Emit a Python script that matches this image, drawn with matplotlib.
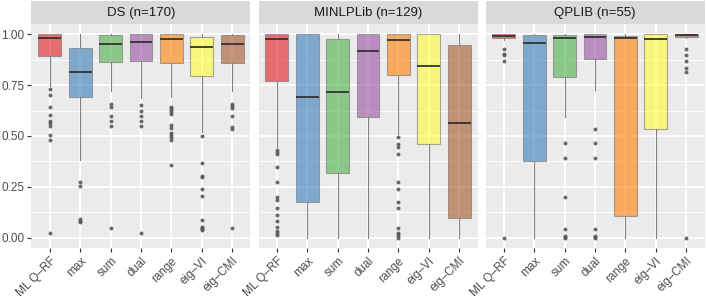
import matplotlib
matplotlib.use("Agg")
import matplotlib.pyplot as plt
from matplotlib.ticker import MultipleLocator, FormatStrFormatter

# ─────────────────────────────────────────────
# DONNÉES
# ─────────────────────────────────────────────
METHODES = ['ML Q–RF', 'max', 'sum', 'dual', 'range', 'eig–VI', 'eig–CMI']
PANNEAUX = ['DS (n=170)', 'MINLPLib (n=129)', 'QPLIB (n=55)']
COULEURS = ['#E41A1C', '#377EB8', '#4DAF4A', '#984EA3', '#FF7F00', '#FFFF33', '#A65628']

# DS
ds_q1    = [0.892, 0.690, 0.863, 0.868, 0.859, 0.797, 0.859]
ds_med   = [0.979, 0.812, 0.951, 0.964, 0.974, 0.935, 0.954]
ds_q3    = [1.000, 0.930, 0.995, 1.000, 1.000, 0.987, 0.995]
ds_lo    = [0.745, 0.380, 0.720, 0.685, 0.690, 0.520, 0.720]
ds_hi    = [1.000, 1.000, 1.000, 1.000, 1.000, 1.000, 1.000]
ds_out   = [
    [0.730, 0.701, 0.641, 0.601, 0.575, 0.563, 0.549, 0.505, 0.480, 0.023],
    [0.275, 0.255, 0.090, 0.085, 0.080],
    [0.655, 0.641, 0.600, 0.574, 0.549, 0.048],
    [0.650, 0.623, 0.600, 0.574, 0.549, 0.023],
    [0.644, 0.636, 0.627, 0.616, 0.609, 0.552, 0.541, 0.513, 0.505, 0.494, 0.480, 0.358],
    [0.500, 0.369, 0.304, 0.297, 0.240, 0.206, 0.088, 0.055, 0.049, 0.042, 0.036],
    [0.655, 0.647, 0.639, 0.600, 0.546, 0.536, 0.049],
]

# MINLPLib
minlp_q1  = [0.771, 0.175, 0.320, 0.595, 0.799, 0.461, 0.096]
minlp_med = [0.974, 0.690, 0.717, 0.915, 0.969, 0.846, 0.565]
minlp_q3  = [1.000, 1.000, 0.974, 1.000, 1.000, 1.000, 0.946]
minlp_lo  = [0.448, 0.000, 0.000, 0.000, 0.510, 0.000, 0.000]
minlp_hi  = [1.000, 1.000, 1.000, 1.000, 1.000, 1.000, 1.000]
minlp_out = [
    [0.430, 0.422, 0.414, 0.347, 0.275, 0.202, 0.185, 0.148, 0.110, 0.085, 0.052, 0.035, 0.023, 0.012],
    [],
    [],
    [],
    [0.497, 0.461, 0.448, 0.410, 0.273, 0.240, 0.175, 0.146, 0.050, 0.026, 0.020, 0.010, 0.000],
    [],
    [],
]

# QPLIB
qp_q1  = [0.979, 0.379, 0.788, 0.876, 0.109, 0.534, 0.984]
qp_med = [0.990, 0.958, 0.979, 0.987, 0.979, 0.974, 0.995]
qp_q3  = [1.000, 0.995, 0.995, 1.000, 0.992, 1.000, 1.000]
qp_lo  = [0.972, 0.000, 0.595, 0.725, 0.000, 0.000, 0.980]
qp_hi  = [1.000, 1.000, 1.000, 1.000, 1.000, 1.000, 1.000]
qp_out = [
    [0.926, 0.905, 0.897, 0.866, 0.000],
    [],
    [0.467, 0.394, 0.202, 0.044, 0.011, 0.003, 0.000],
    [0.534, 0.467, 0.394, 0.044, 0.010, 0.003, 0.000],
    [],
    [],
    [0.926, 0.897, 0.868, 0.832, 0.815, 0.000],
]

DONNEES = [
    (ds_q1, ds_med, ds_q3, ds_lo, ds_hi, ds_out),
    (minlp_q1, minlp_med, minlp_q3, minlp_lo, minlp_hi, minlp_out),
    (qp_q1, qp_med, qp_q3, qp_lo, qp_hi, qp_out),
]

# ─────────────────────────────────────────────
# FIGURE
# ─────────────────────────────────────────────
plt.rcParams['font.family'] = ['Liberation Sans', 'DejaVu Sans']

W, H = 706, 303
fig = plt.figure(figsize=(W / 100, H / 100), dpi=100)

PANEL_W = 219
PANEL_X = [31.5, 258.5, 485.5]
PANEL_TOP, PANEL_BOT = 24, 248
STRIP_TOP = 1

for k, (q1, med, q3, lo, hi, out) in enumerate(DONNEES):
    x0 = PANEL_X[k]
    ax = fig.add_axes([x0 / W, (H - PANEL_BOT) / H, PANEL_W / W, (PANEL_BOT - PANEL_TOP) / H])
    ax.set_facecolor('#EBEBEB')

    stats = []
    for i in range(len(METHODES)):
        stats.append({'q1': q1[i], 'med': med[i], 'q3': q3[i],
                      'whislo': lo[i], 'whishi': hi[i], 'fliers': out[i]})

    bp = ax.bxp(stats, positions=range(1, len(METHODES) + 1), widths=0.75,
                patch_artist=True, showcaps=False,
                boxprops=dict(edgecolor='#8C8C8C', linewidth=0.8),
                whiskerprops=dict(color='#808080', linewidth=0.8),
                medianprops=dict(color='#333333', linewidth=1.3),
                flierprops=dict(marker='o', markersize=2.8, markerfacecolor='#595959',
                                markeredgecolor='none', alpha=0.9))
    for patch, c in zip(bp['boxes'], COULEURS):
        patch.set_facecolor(c)
        patch.set_alpha(0.6)
        patch.set_edgecolor((0.45, 0.45, 0.45, 0.8))

    ax.set_xlim(0.4, 7.6)
    ax.set_ylim(-0.05, 1.05)
    ax.yaxis.set_major_locator(MultipleLocator(0.25))
    ax.yaxis.set_minor_locator(MultipleLocator(0.125))
    ax.yaxis.set_major_formatter(FormatStrFormatter('%.2f'))
    ax.set_axisbelow(True)
    ax.grid(True, which='major', color='white', linewidth=1.3)
    ax.grid(True, which='minor', axis='y', color='white', linewidth=0.65)
    for sp in ax.spines.values():
        sp.set_visible(False)

    ax.set_xticks(range(1, len(METHODES) + 1))
    ax.set_xticklabels(METHODES, rotation=45, ha='right', va='top',
                       rotation_mode='anchor', fontsize=8.5, color='#4D4D4D')
    ax.tick_params(axis='x', which='major', length=3, width=0.8, color='#333333', pad=2)
    ax.tick_params(axis='y', which='minor', length=0)
    if k == 0:
        ax.tick_params(axis='y', which='major', length=3, width=0.8, color='#333333',
                       labelsize=8.5, labelcolor='#4D4D4D', pad=2)
    else:
        ax.tick_params(axis='y', which='major', length=0, labelleft=False)

    # bandeau de facette
    sax = fig.add_axes([x0 / W, (H - PANEL_TOP) / H, PANEL_W / W, (PANEL_TOP - STRIP_TOP) / H])
    sax.set_facecolor('#D9D9D9')
    sax.set_xticks([])
    sax.set_yticks([])
    for sp in sax.spines.values():
        sp.set_visible(False)
    sax.text(0.5, 0.48, PANNEAUX[k], ha='center', va='center',
             fontsize=9.5, color='#1A1A1A', transform=sax.transAxes)

plt.savefig('out.png', dpi=100)
plt.close()
